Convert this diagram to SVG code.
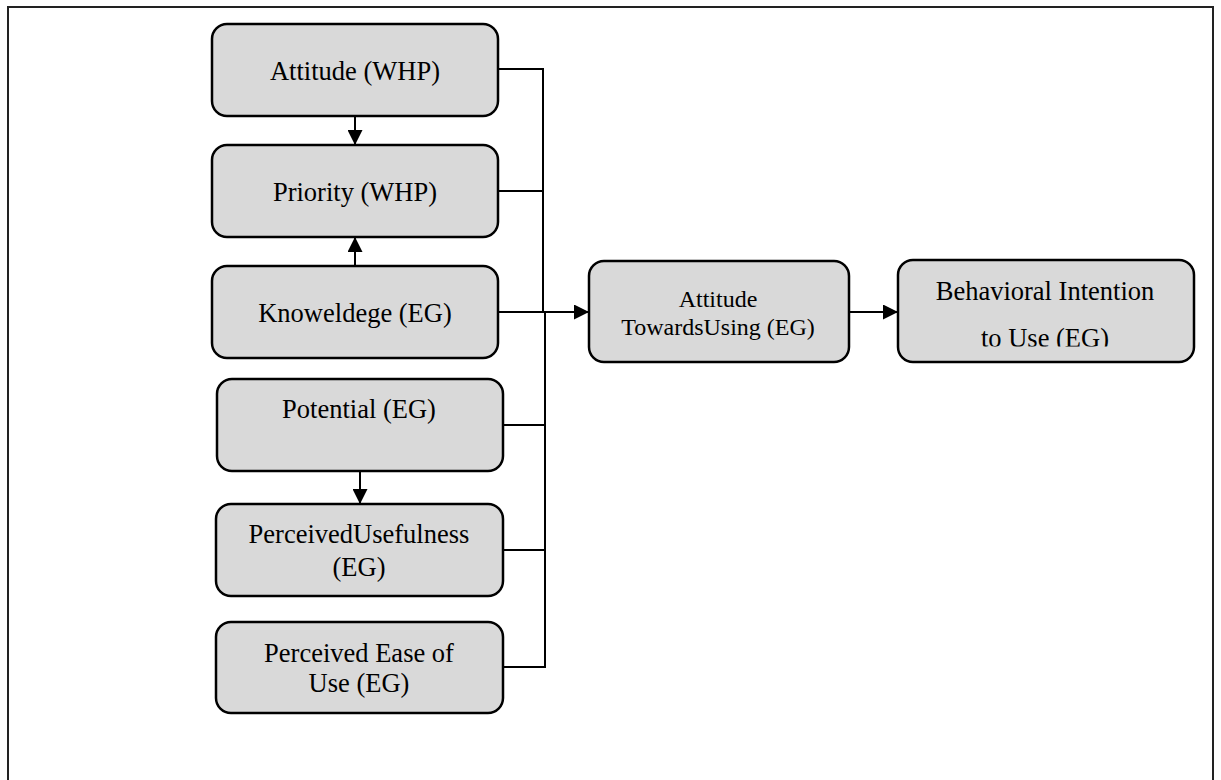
<svg xmlns="http://www.w3.org/2000/svg" width="1221" height="780" viewBox="0 0 1221 780">
<style>
.node rect{fill:#d9d9d9;stroke:#000;stroke-width:2.5}
.node text{font-family:"Liberation Serif","Times New Roman",serif;font-size:26.5px;fill:#000;text-anchor:middle}
.node text.sm{font-size:24px}
.conn path{fill:none;stroke:#000;stroke-width:2}
</style>
<defs>
<marker id="ah" markerWidth="15" markerHeight="15" refX="15" refY="7.5" orient="auto" markerUnits="userSpaceOnUse">
<path d="M0,0 L15,7.5 L0,15 Z" fill="#000"/>
</marker>
<clipPath id="clipB"><rect x="898" y="260" width="296" height="86.5"/></clipPath>
</defs>
<rect x="0" y="0" width="1221" height="780" fill="#fff"/>
<rect id="frame" x="8" y="7" width="1205" height="800" fill="none" stroke="#222" stroke-width="2"/>
<g id="connectors" class="conn">
<path d="M355,116 V145" marker-end="url(#ah)"/>
<path d="M355,266 V237" marker-end="url(#ah)"/>
<path d="M360,471 V504" marker-end="url(#ah)"/>
<path d="M498,69 H543 V312"/>
<path d="M498,191 H543"/>
<path d="M498,312 H589" marker-end="url(#ah)"/>
<path d="M545,312 V667 H503"/>
<path d="M503,425 H545"/>
<path d="M503,550 H545"/>
<path d="M849,312 H898" marker-end="url(#ah)"/>
</g>
<g id="n1" class="node"><rect x="212" y="24" width="286" height="92" rx="15"/><text x="355" y="80">Attitude (WHP)</text></g>
<g id="n2" class="node"><rect x="212" y="145" width="286" height="92" rx="15"/><text x="355" y="201">Priority (WHP)</text></g>
<g id="n3" class="node"><rect x="212" y="266" width="286" height="92" rx="15"/><text x="355" y="322">Knoweldege (EG)</text></g>
<g id="n4" class="node"><rect x="217" y="379" width="286" height="92" rx="15"/><text x="359" y="418">Potential (EG)</text></g>
<g id="n5" class="node"><rect x="216" y="504" width="287" height="92" rx="15"/><text x="359" y="543">PerceivedUsefulness</text><text x="359" y="576">(EG)</text></g>
<g id="n6" class="node"><rect x="216" y="622" width="287" height="91" rx="15"/><text x="359" y="662">Perceived Ease of</text><text x="359" y="692">Use (EG)</text></g>
<g id="n7" class="node"><rect x="589" y="261" width="260" height="101" rx="15"/><text class="sm" x="718" y="307">Attitude</text><text class="sm" x="718" y="335">TowardsUsing (EG)</text></g>
<g id="n8" class="node"><rect x="898" y="260" width="296" height="102" rx="15"/><text x="1045" y="300">Behavioral Intention</text><text x="1045" y="347" clip-path="url(#clipB)">to Use (EG)</text></g>
</svg>
